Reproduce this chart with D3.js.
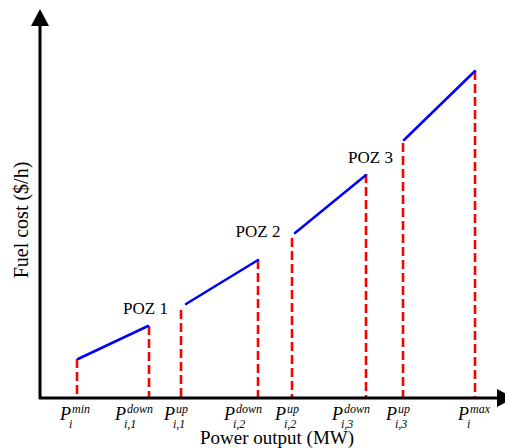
<!DOCTYPE html>
<html>
<head>
<meta charset="utf-8">
<script src="https://cdn.jsdelivr.net/npm/d3@7"></script>
<style>
  body { margin: 0; background: #fff; }
  svg { display: block; font-family: "Liberation Serif", "Times New Roman", serif; }
</style>
</head>
<body>
<div id="chart"></div>
<script>
// limit points along the power axis (arbitrary units)
var limitPower = [7.4, 21.8, 28.2, 43.6, 50.4, 65.2, 72.6, 87];
var limitCost  = [7.8, 14.4, 17.6, 27.6, 32.0, 44.8, 51.0, 65.4];
var limitSup   = ["min", "down", "up", "down", "up", "down", "up", "max"];
var limitSub   = ["i", "i,1", "i,1", "i,2", "i,2", "i,3", "i,3", "i"];

// feasible cost segments
var segStartPower = [7.6, 29.2, 51.0, 72.8];
var segStartCost  = [7.8, 18.8, 33.0, 51.6];
var segEndPower   = [21.6, 43.6, 65.2, 87.0];
var segEndCost    = [14.4, 27.6, 44.6, 65.4];

// prohibited operating zones
var pozNames = ["POZ 1", "POZ 2", "POZ 3"];
var pozPower = [21.1, 43.6, 66.1];
var pozCost  = [16.8, 32.2, 47.0];

var width = 505, height = 448;
var origin = {x: 40, y: 398};

var x = d3.scaleLinear().domain([0, 93]).range([origin.x, origin.x + 465]);
var y = d3.scaleLinear().domain([0, 77.4]).range([origin.y, origin.y - 387]);

var svg = d3.select("#chart").append("svg")
    .attr("width", width)
    .attr("height", height);

// red dashed limit lines
svg.append("g").selectAll("line")
    .data(limitPower)
  .enter().append("line")
    .attr("x1", function (d) { return x(d); })
    .attr("x2", function (d) { return x(d); })
    .attr("y1", function (d, i) { return y(limitCost[i]); })
    .attr("y2", y(0))
    .style("stroke", "#ff0000")
    .style("stroke-width", 2.6)
    .style("stroke-dasharray", "9,4");

// blue cost curves
var line = d3.line()
    .x(function (d) { return x(d[0]); })
    .y(function (d) { return y(d[1]); });

var segs = segStartPower.map(function (p, i) {
  return [[p, segStartCost[i]], [segEndPower[i], segEndCost[i]]];
});

svg.append("g").selectAll("path")
    .data(segs)
  .enter().append("path")
    .attr("d", line)
    .style("fill", "none")
    .style("stroke", "#0000ff")
    .style("stroke-width", 2.5)
    .style("stroke-linecap", "round");

// axes with arrowheads
svg.append("line")
    .attr("x1", origin.x).attr("x2", origin.x)
    .attr("y1", origin.y + 1).attr("y2", 24)
    .style("stroke", "#000").style("stroke-width", 3);
svg.append("path")
    .attr("d", "M" + origin.x + ",9L" + (origin.x - 9) + ",26L" + (origin.x + 9) + ",26Z")
    .style("fill", "#000");

svg.append("line")
    .attr("x1", origin.x - 1).attr("x2", 498)
    .attr("y1", origin.y).attr("y2", origin.y)
    .style("stroke", "#000").style("stroke-width", 3);
svg.append("path")
    .attr("d", "M514," + origin.y + "L497," + (origin.y - 9) + "L497," + (origin.y + 9) + "Z")
    .style("fill", "#000");

// limit labels  P_sub^sup
var labels = svg.append("g").selectAll("text")
    .data(limitPower)
  .enter().append("text")
    .attr("transform", function (d, i) {
      var off = limitSup[i] === "down" ? -34 : -17;
      return "translate(" + (x(d) + off) + ",420)";
    })
    .style("font-style", "italic")
    .style("font-size", "18px")
    .style("fill", "#000");

labels.append("tspan").text("P");
labels.append("tspan")
    .attr("dx", 1)
    .attr("dy", -7)
    .style("font-size", "12px")
    .text(function (d, i) { return limitSup[i]; });
labels.append("tspan")
    .attr("x", 0)
    .attr("dx", 9)
    .attr("dy", 15)
    .style("font-size", "12px")
    .text(function (d, i) { return limitSub[i]; });

// POZ labels
svg.append("g").selectAll("text")
    .data(pozNames)
  .enter().append("text")
    .attr("x", function (d, i) { return x(pozPower[i]); })
    .attr("y", function (d, i) { return y(pozCost[i]); })
    .attr("text-anchor", "middle")
    .style("font-size", "17px")
    .text(function (d) { return d; });

// axis titles
svg.append("text")
    .attr("x", 277)
    .attr("y", 444)
    .attr("text-anchor", "middle")
    .style("font-size", "19px")
    .text("Power output (MW)");

svg.append("text")
    .attr("transform", "translate(28,220) rotate(-90)")
    .attr("text-anchor", "middle")
    .style("font-size", "20px")
    .text("Fuel cost ($/h)");
</script>
</body>
</html>
